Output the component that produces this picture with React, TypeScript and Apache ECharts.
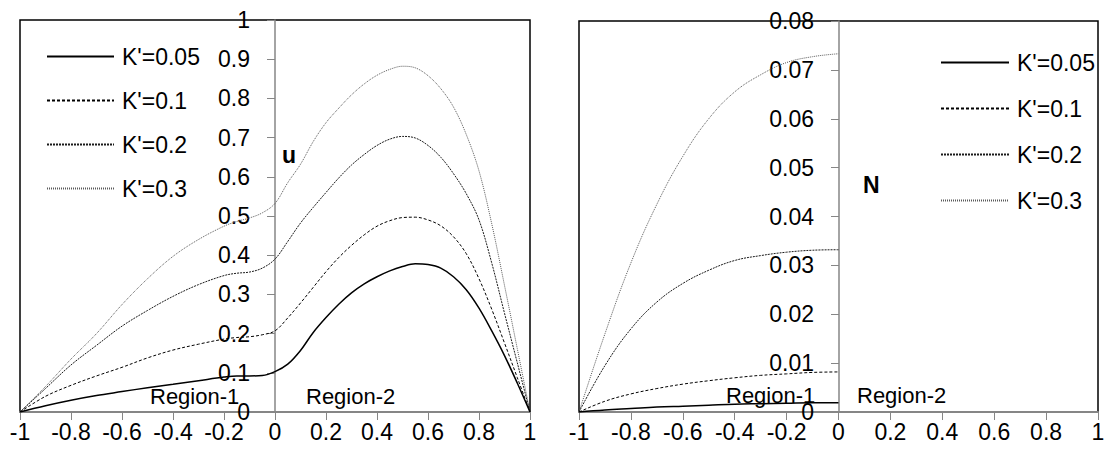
import React, { useEffect, useRef } from "react";
import * as echarts from "echarts";

// Positions across the channel (Region-1: -1..0, Region-2: 0..1)
const xFull = [
  -1, -0.9, -0.8, -0.7, -0.6, -0.5, -0.4, -0.3, -0.2, -0.15, -0.1, -0.05,
  0, 0.05, 0.1, 0.15, 0.2, 0.25, 0.3, 0.35, 0.4, 0.45, 0.5, 0.55, 0.6, 0.65, 0.7, 0.75, 0.8, 0.85, 0.9, 0.95, 1,
];
const xRegion1 = [-1, -0.9, -0.8, -0.7, -0.6, -0.5, -0.4, -0.3, -0.2, -0.1, 0];

const seriesNames = ["K'=0.05", "K'=0.1", "K'=0.2", "K'=0.3"];

// Velocity u
const u005 = [
  0, 0.016, 0.03, 0.042, 0.052, 0.062, 0.071, 0.08, 0.089, 0.092, 0.092, 0.093,
  0.103, 0.122, 0.157, 0.203, 0.241, 0.275, 0.304, 0.327, 0.345, 0.36, 0.371, 0.378, 0.376, 0.367, 0.345, 0.312, 0.265, 0.207, 0.144, 0.074, 0,
];
const u01 = [
  0, 0.04, 0.068, 0.092, 0.114, 0.138, 0.158, 0.173, 0.186, 0.19, 0.192, 0.197,
  0.207, 0.24, 0.278, 0.318, 0.358, 0.394, 0.425, 0.452, 0.474, 0.488, 0.496, 0.497, 0.49, 0.475, 0.447, 0.404, 0.34, 0.262, 0.176, 0.088, 0,
];
const u02 = [
  0, 0.06, 0.12, 0.17, 0.219, 0.259, 0.295, 0.325, 0.348, 0.354, 0.357, 0.367,
  0.39, 0.435, 0.482, 0.522, 0.56, 0.597, 0.63, 0.657, 0.68, 0.696, 0.703, 0.699, 0.68, 0.65, 0.608, 0.557, 0.49, 0.38, 0.252, 0.126, 0,
];
const u03 = [
  0, 0.065, 0.135, 0.2, 0.274, 0.34, 0.397, 0.44, 0.474, 0.486, 0.495, 0.508,
  0.532, 0.585, 0.632, 0.69, 0.738, 0.775, 0.809, 0.837, 0.859, 0.874, 0.882, 0.878, 0.858, 0.825, 0.778, 0.708, 0.615, 0.48, 0.323, 0.162, 0,
];

// Microrotation N (Region-1 only)
const n005 = [0, 0.0004, 0.0007, 0.001, 0.0012, 0.0014, 0.0016, 0.0017, 0.0018, 0.0019, 0.0019];
const n01 = [0, 0.0022, 0.0037, 0.0048, 0.0057, 0.0064, 0.007, 0.0075, 0.0078, 0.0081, 0.0082];
const n02 = [0, 0.0095, 0.017, 0.0225, 0.0263, 0.029, 0.031, 0.032, 0.0327, 0.0331, 0.0332];
const n03 = [0, 0.016, 0.0305, 0.0425, 0.0523, 0.06, 0.0655, 0.069, 0.0715, 0.0727, 0.0733];

const FONT = "Liberation Sans";

const lineStyles = [
  { color: "#000000", width: 1.5, type: "solid" },
  { color: "#000000", width: 1, type: [3, 2] },
  { color: "#1a1a1a", width: 1, type: [2, 1] },
  { color: "#5a5a5a", width: 1, type: [1, 1] },
];

const pair = (xs: number[], ys: number[]) => xs.map((x, i) => [x, ys[i]]);

export default function App() {
  const ref = useRef<HTMLDivElement>(null);

  useEffect(() => {
    if (!ref.current) return;
    const chart = echarts.init(ref.current, null, { renderer: "svg" });

    const gridBase = { outerBoundsMode: "none", containLabel: false };

    const xAxisBase = {
      type: "value",
      min: -1,
      max: 1,
      interval: 0.2,
      axisLine: { show: true, onZero: false, lineStyle: { color: "#868686", width: 2 } },
      axisTick: { show: true, length: 8, lineStyle: { color: "#868686", width: 1 } },
      axisLabel: { color: "#000", fontSize: 23, fontFamily: FONT, margin: 8 },
      splitLine: { show: false },
    };
    // hidden axes used only to place the value axis at x = 0
    const hiddenX = { type: "value", min: 0, max: 1, show: false };
    const hiddenY = (max: number) => ({ type: "value", min: 0, max, show: false });
    const yAxisVisible = {
      type: "value",
      min: 0,
      position: "left",
      axisLine: { show: true, onZero: false, lineStyle: { color: "#868686", width: 1.5 } },
      axisTick: { show: true, length: 8, lineStyle: { color: "#868686", width: 1 } },
      axisLabel: { color: "#000", fontSize: 23, fontFamily: FONT, margin: 25 },
      splitLine: { show: false },
    };

    const uSets = [u005, u01, u02, u03];
    const nSets = [n005, n01, n02, n03];

    const series: any[] = [];
    uSets.forEach((ys, i) => {
      series.push({
        name: seriesNames[i],
        type: "line",
        xAxisIndex: 0,
        yAxisIndex: 0,
        data: pair(xFull, ys),
        symbol: "none",
        smooth: 0.35,
        lineStyle: lineStyles[i],
        itemStyle: { color: lineStyles[i].color },
        z: 4 - i,
      });
    });
    nSets.forEach((ys, i) => {
      series.push({
        name: seriesNames[i],
        type: "line",
        xAxisIndex: 1,
        yAxisIndex: 1,
        data: pair(xRegion1, ys),
        symbol: "none",
        smooth: 0.4,
        lineStyle: lineStyles[i],
        itemStyle: { color: lineStyles[i].color },
        z: 4 - i,
      });
    });

    const legendBase = {
      orient: "vertical",
      data: seriesNames,
      itemHeight: 14,
      itemStyle: { opacity: 0 },
      textStyle: { color: "#000", fontSize: 23, fontFamily: FONT, lineHeight: 23, padding: [0, 0, 0, 3] },
      selectedMode: false,
    };

    const textEl = (text: string, x: number, y: number, size: number, bold = false) => ({
      type: "text",
      x,
      y,
      z: 10,
      style: {
        text,
        fill: "#000",
        fontSize: size,
        fontFamily: FONT,
        fontWeight: bold ? "bold" : "normal",
        textAlign: "left",
        textVerticalAlign: "middle",
        align: "left",
        verticalAlign: "middle",
      },
    });

    chart.setOption({
      animation: false,
      backgroundColor: "#ffffff",
      grid: [
        { ...gridBase, left: 20, top: 20, width: 510, height: 392, show: true, borderColor: "#000", borderWidth: 1.5, backgroundColor: "transparent" },
        { ...gridBase, left: 579, top: 21, width: 519, height: 391, show: true, borderColor: "#000", borderWidth: 1.5, backgroundColor: "transparent" },
        { ...gridBase, left: 275, top: 20, width: 255, height: 392 },
        { ...gridBase, left: 839, top: 21, width: 259, height: 391 },
      ],
      xAxis: [
        { ...xAxisBase, gridIndex: 0 },
        { ...xAxisBase, gridIndex: 1 },
        { ...hiddenX, gridIndex: 2 },
        { ...hiddenX, gridIndex: 3 },
      ],
      yAxis: [
        { ...hiddenY(1), gridIndex: 0 },
        { ...hiddenY(0.08), gridIndex: 1 },
        { ...yAxisVisible, gridIndex: 2, max: 1, interval: 0.1 },
        { ...yAxisVisible, gridIndex: 3, max: 0.08, interval: 0.01 },
      ],
      legend: [
        { ...legendBase, left: 41, top: 40, itemWidth: 67, itemGap: 21 },
        { ...legendBase, left: 935, top: 46, itemWidth: 68, itemGap: 23 },
      ],
      graphic: [
        textEl("u", 282, 155, 23, true),
        textEl("N", 863, 185, 23, true),
        textEl("Region-1", 150, 396, 22),
        textEl("Region-2", 306, 396, 22),
        textEl("Region-1", 726, 395, 22),
        textEl("Region-2", 857, 395, 22),
      ],
      series,
    });

    return () => chart.dispose();
  }, []);

  return (
    <div
      ref={ref}
      style={{ position: "fixed", left: 0, top: 0, width: 1105, height: 453, background: "#fff" }}
    />
  );
}
